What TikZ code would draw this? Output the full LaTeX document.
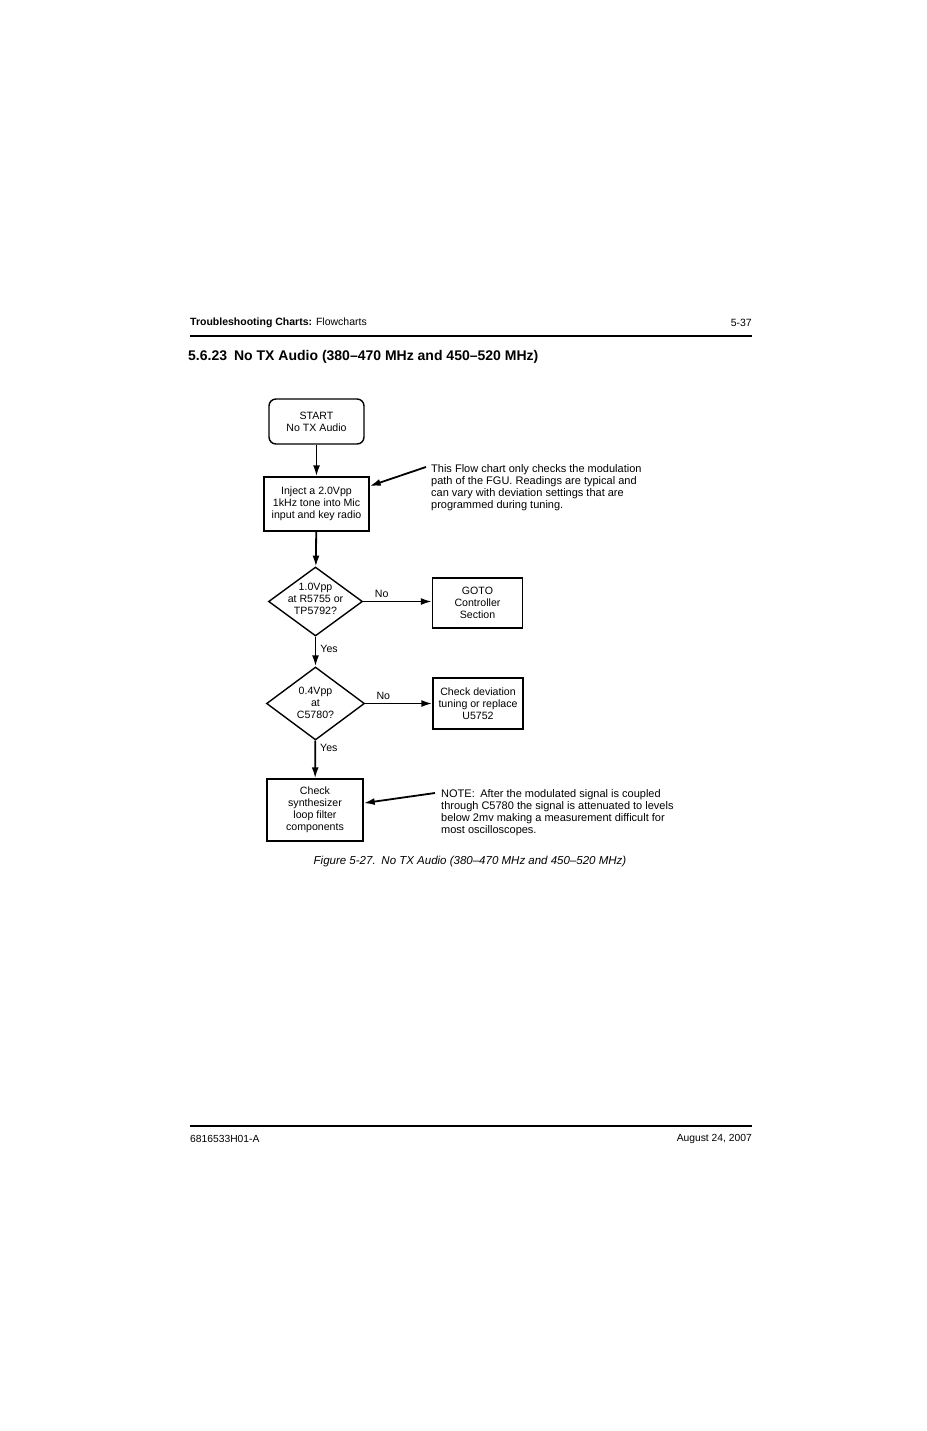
\documentclass[tikz,border=0pt]{standalone}
\usepackage{fontspec}
\setmainfont{Liberation Sans}
\usetikzlibrary{shapes.geometric,arrows.meta}
\newcommand{\chartbox}[2]{
	\node[draw, rectangle, line width = 1.4pt, align = center, inner sep = 0pt, minimum width = #1, minimum height = #2, font = \fontsize{10.6}{12}\selectfont]
}

\begin{document}
\begin{tikzpicture}[x=1pt, y=-1pt,
	flow/.style = {-{Latex[length = 11pt, width = 7pt]}, line width = 1.8pt},
	decision/.style = {draw, diamond, line width = 1.4pt, inner sep = 0pt},
	plain/.style = {align = center, inner sep = 0pt, font = \fontsize{10.6}{12}\selectfont},
	note/.style = {align = left, inner sep = 0pt, anchor = north west, font = \fontsize{11}{12}\selectfont}]
		\useasboundingbox[fill = white] (0,0) rectangle (926,1431);

		% page head and foot
		\node[anchor = west, inner sep = 0pt, font = \fontsize{10.5}{12}\selectfont] (head) at (190,323) {\textbf{Troubleshooting Charts:} Flowcharts};
		\node[anchor = east, inner sep = 0pt, font = \fontsize{10.5}{12}\selectfont] (pageno) at (752,323) {5-37};
		\draw[line width = 2pt] (190,336) -- (752,336);
		\node[anchor = west, inner sep = 0pt, font = \fontsize{14}{16}\selectfont\bfseries] (title) at (188,357) {5.6.23\enspace No TX Audio (380--470 MHz and 450--520 MHz)};

		\draw[line width = 2pt] (190,1126) -- (752,1126);
		\node[anchor = west, inner sep = 0pt, font = \fontsize{10.3}{12}\selectfont] (docno) at (190,1139) {6816533H01-A};
		\node[anchor = east, inner sep = 0pt, font = \fontsize{10.3}{12}\selectfont] (date) at (752,1139) {August 24, 2007};

		% flowchart
		\node[draw, rectangle, rounded corners = 7pt, line width = 1.4pt, align = center, inner sep = 0pt, minimum width = 95pt, minimum height = 45pt, font = \fontsize{10.6}{12}\selectfont] (start) at (316.5,421.5) {START\\No TX Audio};
		\chartbox{105pt}{54pt} (inject) at (316.5,504) {Inject a 2.0Vpp\\1kHz tone into Mic\\input and key radio};

		\node[decision, minimum width = 94pt, minimum height = 69pt] (vpp1) at (315.5,601.5) {};
		\node[plain] (vpp1text) at (315.5,599) {1.0Vpp\\at R5755 or\\TP5792?};
		\chartbox{90pt}{50pt} (goto) at (477.5,603) {GOTO\\Controller\\Section};

		\node[decision, minimum width = 98pt, minimum height = 73pt] (vpp2) at (315.5,703.5) {};
		\node[plain] (vpp2text) at (315.5,703) {0.4Vpp\\at\\C5780?};
		\chartbox{90pt}{51pt} (deviation) at (478,703.5) {Check deviation\\tuning or replace\\U5752};

		\chartbox{96pt}{62pt} (synth) at (315,810) {Check\\synthesizer\\loop filter\\components};

		\draw[flow] (start) -- (inject);
		\draw[flow] (inject) -- (vpp1);
		\draw[flow] (vpp1.east) -- (vpp1.east -| goto.west) node[plain, pos = 0.27, above = 3pt] (no1) {No};
		\draw[flow] (vpp1) -- (vpp2) node[plain, pos = 0.4, right = 4pt] (yes1) {Yes};
		\draw[flow] (vpp2.east) -- (vpp2.east -| deviation.west) node[plain, pos = 0.27, above = 3pt] (no2) {No};
		\draw[flow] (vpp2) -- (synth) node[plain, pos = 0.2, right = 4pt] (yes2) {Yes};

		% side notes
		\node[note] (note1) at (431,464) {This Flow chart only checks the modulation\\path of the FGU. Readings are typical and\\can vary with deviation settings that are\\programmed during tuning.};
		\coordinate (note1tail) at (426,467);
		\draw[flow] (note1tail) -- (inject);

		\node[note] (note2) at (441,789) {NOTE:\enspace After the modulated signal is coupled\\through C5780 the signal is attenuated to levels\\below 2mv making a measurement difficult for\\most oscilloscopes.};
		\coordinate (note2tail) at (435,793);
		\draw[flow] (note2tail) -- (synth);

		\node[inner sep = 0pt, font = \fontsize{11.5}{12}\selectfont\itshape] (caption) at (470,862) {Figure 5-27.\enspace No TX Audio (380--470 MHz and 450--520 MHz)};
	\end{tikzpicture}
\end{document}
